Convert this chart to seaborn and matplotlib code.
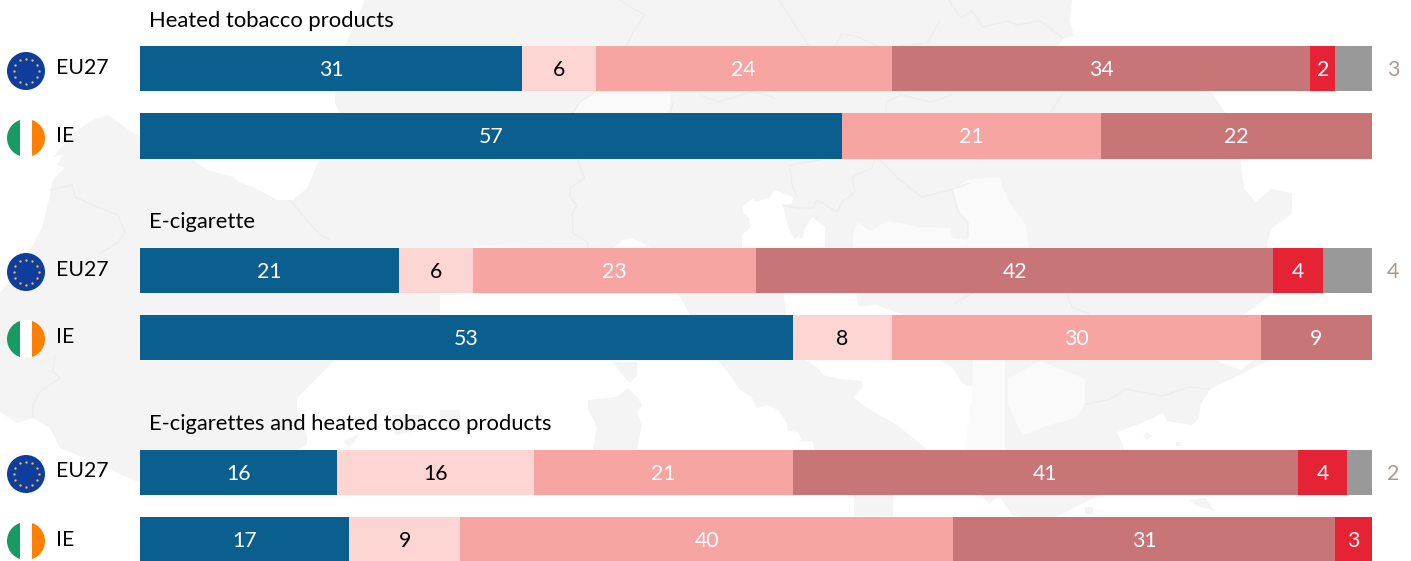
import math
import matplotlib
matplotlib.use("Agg")
import matplotlib.pyplot as plt
from matplotlib.patches import Circle, Polygon, Rectangle
import seaborn as sns

sns.set_theme(style="white")
plt.rcParams["font.family"] = ["Lato", "DejaVu Sans"]

rows = ["h_eu", "h_ie", "gap1", "e_eu", "e_ie", "gap2", "b_eu", "b_ie"]
row_names = ["EU27", "IE", "", "EU27", "IE", "", "EU27", "IE"]
group_titles = ["Heated tobacco products", "E-cigarette", "E-cigarettes and heated tobacco products"]
colors = ["#0B5F8F", "#FDD5D3", "#F6A5A2", "#C87578", "#E62235", "#999999"]
text_colors = ["white", "black", "white", "white", "white", None]
heated_eu = [31, 6, 24, 34, 2, 3]
heated_ie = [57, 0, 21, 22, 0, 0]
ecig_eu = [21, 6, 23, 42, 4, 4]
ecig_ie = [53, 8, 30, 9, 0, 0]
both_eu = [16, 16, 21, 41, 4, 2]
both_ie = [17, 9, 40, 31, 3, 0]
series = {"h_eu": heated_eu, "h_ie": heated_ie, "e_eu": ecig_eu, "e_ie": ecig_ie, "b_eu": both_eu, "b_ie": both_ie}

W, H = 1411, 561
fig = plt.figure(figsize=(W / 100, H / 100), dpi=100, facecolor="white")
ax = fig.add_axes([140.0 / W, 1 - 573.5 / H, 1232 / W, 538.5 / H])
ax.patch.set_alpha(0)

for r in rows:
    vals = series.get(r)
    if vals is None:
        continue
    cum = 0
    for i, v in enumerate(vals):
        if v == 0:
            continue
        sns.barplot(y=[r], x=[v], order=rows, orient="h", left=cum, color=colors[i],
                    saturation=1, width=0.67, linewidth=0, ax=ax, errorbar=None)
        if text_colors[i]:
            ax.text(cum + v / 2, rows.index(r) + 0.02, str(v), color=text_colors[i], ha="center", va="center", fontsize=15.3)
        else:
            ax.text(101.72, rows.index(r) + 0.02, str(v), color="#A89A90", ha="center", va="center", fontsize=15.3, clip_on=False)
        cum += v

ax.set_xlim(0, 100)
ax.set_ylim(7.5, -0.5)
ax.set_xlabel("")
ax.set_ylabel("")
ax.set_xticks([])
ax.set_yticks([])
sns.despine(ax=ax, left=True, bottom=True)

# Decorative background map, in page pixels
pg = fig.add_axes([0, 0, 1, 1], zorder=-1)
pg.set_xlim(0, W)
pg.set_ylim(H, 0)
pg.axis("off")
LAND, LIGHT, BORDER = "#F4F4F4", "#FAFAFA", "#EDEDED"
pg.add_patch(Rectangle((0, 0), W, H, fc=LAND, ec="none"))

seas = [
    # Atlantic and northern bay
    [(0,0),(365,0),(345,46),(335,91),(335,103),(340,114),(320,159),(317,165),(307,188),(293,200),(277,200),(253,187),(240,183),(233,177),(207,170),(192,159),(140,137),(133,133),(108,115),(93,120),(73,133),(53,157),(63,155),(57,165),(65,168),(57,175),(52,182),(50,195),(42,228),(33,245),(25,255),(10,280),(0,293)],
    # Western Mediterranean down to the page bottom
    [(0,412),(17,423),(33,418),(50,428),(60,448),(70,452),(100,465),(140,483),(297,450),(307,445),(307,435),(297,412),(297,398),(333,362),(440,315),(440,293),(470,248),(477,246),(613,248),(623,240),(632,238),(642,243),(650,248),(678,293),(690,315),(718,360),(730,375),(740,390),(752,398),(757,408),(767,405),(778,410),(787,423),(788,431),(798,432),(802,440),(797,442),(812,441),(815,450),(854,495),(854,516),(893,516),(893,495),(928,450),(913,438),(897,425),(867,408),(853,397),(862,388),(862,381),(840,379),(823,375),(817,367),(805,360),(786,314),(784,293),(742,248),(742,235),(750,228),(749,218),(743,213),(742,207),(753,198),(755,202),(770,197),(775,190),(783,193),(793,197),(792,203),(783,206),(788,227),(795,240),(807,225),(812,217),(825,227),(825,248),(856,293),(859,307),(875,305),(902,314),(940,360),(953,368),(962,383),(972,387),(973,398),(970,408),(970,422),(967,445),(965,450),(981,495),(990,504),(999,496),(1013,516),(1050,520),(1130,480),(1411,480),(1411,561),(0,561)],
    # Eastern sea
    [(1072,0),(1070,21),(1074,36),(1063,39),(1058,46),(1212,93),(1226,114),(1240,159),(1244,189),(1256,202),(1271,189),(1292,193),(1292,214),(1271,229),(1267,246),(1274,293),(1244,314),(1217,361),(1240,370),(1256,359),(1270,340),(1270,360),(1210,389),(1201,404),(1199,418),(1192,425),(1167,421),(1163,413),(1142,423),(1117,432),(1124,448),(1130,480),(1411,480),(1411,0)],
]
for pts in seas:
    pg.add_patch(Polygon(pts, closed=True, fc="white", ec="none"))

islands = [
    [(613,362),(637,362),(637,375),(630,383),(620,372)],
    [(588,400),(617,397),(628,388),(637,397),(642,405),(637,412),(642,425),(637,450),(630,470),(600,470),(593,450),(597,428),(593,418),(588,410)],
    [(343,442),(360,433),(350,447)],
    [(392,415),(423,415),(423,430),(395,435)],
    [(440,410),(460,410),(460,432),(440,430)],
    [(1188,500),(1205,498),(1215,511),(1198,506)],
    [(1085,507),(1093,507),(1093,514),(1085,514)],
    [(1147,432),(1152,436),(1147,440),(1143,436)],
    [(1176,442),(1181,442),(1181,446),(1176,446)],
    [(800,225),(803,215),(806,222),(803,238),(799,238)],
]
for pts in islands:
    pg.add_patch(Polygon(pts, closed=True, fc=LAND, ec="none"))

lighter = [
    [(952,190),(968,180),(999,177),(1008,200),(1026,225),(1029,248),(967,248),(968,223),(958,211)],
    [(853,248),(853,235),(858,222),(870,231),(887,221),(920,227),(950,228),(952,238),(967,240),(967,248)],
    [(1008,379),(1040,361),(1085,379),(1085,404),(1076,418),(1049,425),(1022,436),(1008,404)],
    [(973,360),(1005,360),(1005,450),(965,450),(970,408),(973,398),(972,387)],
    [(595,92),(670,92),(670,114),(573,114),(580,102)],
]
for pts in lighter:
    pg.add_patch(Polygon(pts, closed=True, fc=LIGHT, ec="none"))

borders = [
    [(578,159),(582,172),(585,178),(570,188),(570,197),(577,205),(572,215),(573,233),(587,242),(588,248)],
    [(50,190),(72,185),(75,197),(100,208),(118,215),(125,233),(117,243),(100,253)],
    [(55,355),(53,372),(60,378),(50,385),(40,392),(33,405),(33,417)],
    [(290,200),(300,212),(320,235),(330,240)],
    [(875,159),(872,168),(852,177),(855,192),(842,202),(837,212),(817,200),(813,208),(797,208),(783,205)],
    [(880,160),(900,180),(922,197),(950,190),(970,183)],
    [(820,160),(790,165),(792,185),(797,197)],
    [(779,0),(795,25),(809,46)],
    [(949,0),(961,18),(972,11),(983,27),(1008,21),(1017,25),(1040,21),(1063,38)],
    [(940,21),(927,43),(900,46)],
    [(836,45),(841,34),(856,36),(877,46)],
    [(700,95),(718,102),(754,91),(775,98)],
    [(886,114),(886,102),(900,95),(906,96),(931,102),(952,95)],
    [(1051,112),(1063,93)],
    [(620,0),(627,5),(645,15),(633,32),(627,45)],
    [(573,113),(580,102),(595,92)],
    [(670,113),(673,103)],
    [(954,304),(972,293)],
    [(1067,293),(1072,307),(1090,314)],
    [(1085,404),(1108,400),(1126,389),(1163,396),(1188,387),(1210,389)],
    [(952,189),(958,211),(968,223),(968,238)],
]
for pts in borders:
    pg.plot(*zip(*pts), color=BORDER, lw=0.9, solid_joinstyle="round")

ov = fig.add_axes([0, 0, 1, 1], zorder=5)
ov.set_xlim(0, W)
ov.set_ylim(H, 0)
ov.axis("off")
ov.patch.set_alpha(0)
flag_centres = {"h_eu": 71, "h_ie": 138, "e_eu": 272, "e_ie": 339, "b_eu": 474, "b_ie": 541}
label_y = {"h_eu": 67.5, "h_ie": 136, "e_eu": 270, "e_ie": 337, "b_eu": 471, "b_ie": 540}
for r, name in zip(rows, row_names):
    if not name:
        continue
    cy = flag_centres[r]
    cx, rad = 26, 19
    if name == "EU27":
        ov.add_patch(Circle((cx, cy), rad, fc="#0F3D9E", ec="none"))
        for k in range(12):
            a = math.radians(30 * k)
            ov.plot(cx + 12.5 * math.cos(a), cy + 12.5 * math.sin(a), marker="o", ms=1.7, color="#E8C23A", mew=0)
    else:
        clip = Circle((cx, cy), rad, transform=ov.transData)
        for x0, c in [(cx - rad, "#169B62"), (cx - rad / 3, "white"), (cx + rad / 3, "#FF7F00")]:
            p = Rectangle((x0, cy - rad), 2 * rad / 3, 2 * rad, fc=c, ec="none")
            ov.add_patch(p)
            p.set_clip_path(clip)
    ov.text(56, label_y[r], name, fontsize=15.3, color="black", ha="left", va="center")

for t, y in zip(group_titles, [20.5, 222, 423.5]):
    ov.text(149, y, t, fontsize=15.8, color="black", ha="left", va="center")

fig.savefig("out.png", dpi=100)
